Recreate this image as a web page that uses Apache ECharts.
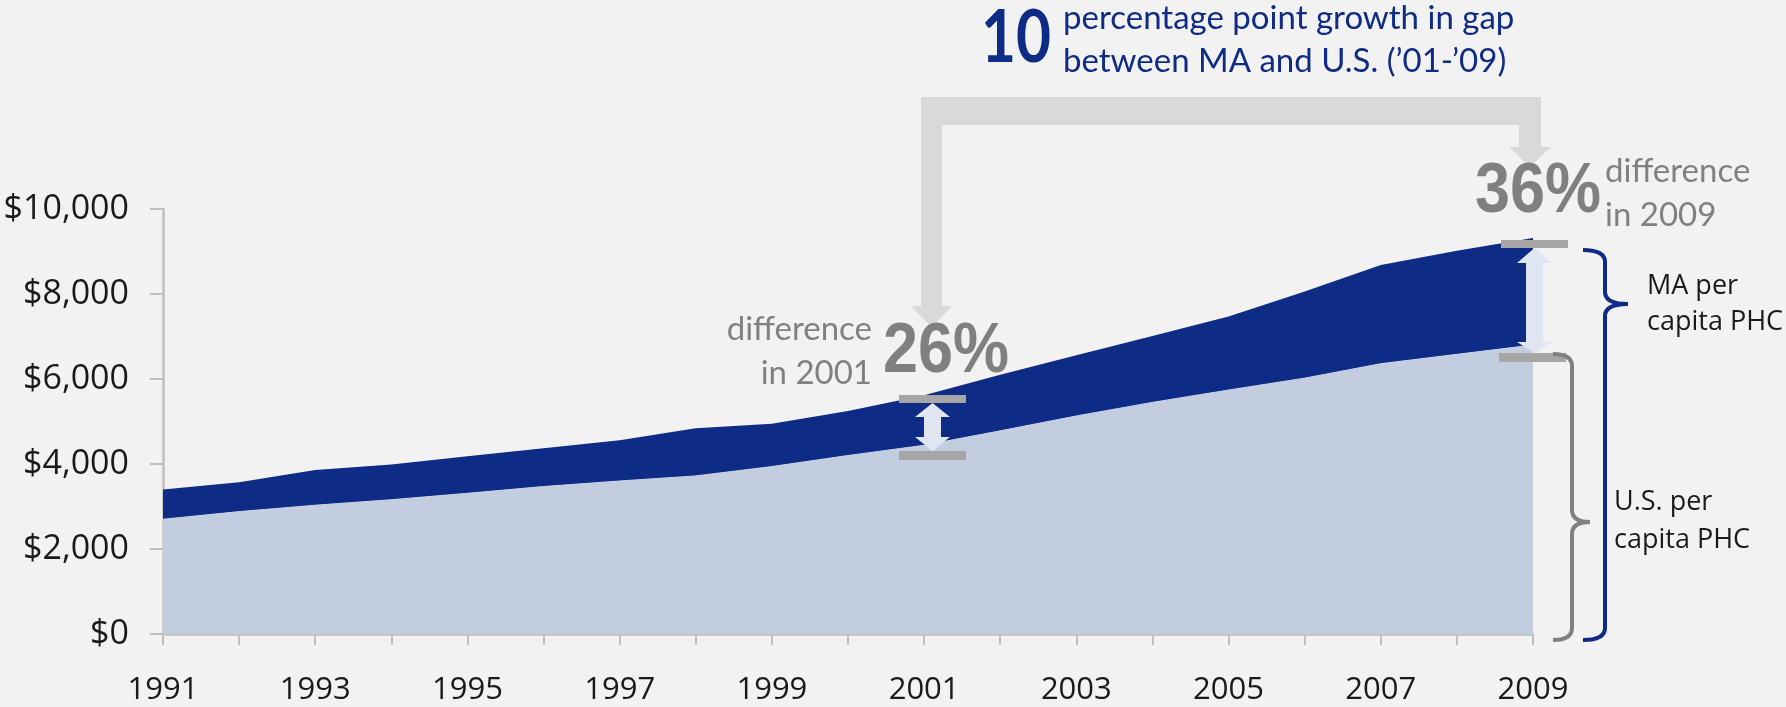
<!DOCTYPE html>
<html>
<head>
<meta charset="utf-8">
<script src="https://cdn.jsdelivr.net/npm/echarts@6/dist/echarts.min.js"></script>
<style>
  html, body { margin: 0; padding: 0; background: #f2f2f2; }
  #chart { width: 1786px; height: 707px; }
</style>
</head>
<body>
<div id="chart"></div>
<script>
// ---- data ----
var years = ['1991','1992','1993','1994','1995','1996','1997','1998','1999','2000',
             '2001','2002','2003','2004','2005','2006','2007','2008','2009'];
var maPerCapitaPHC = [3400, 3570, 3860, 3990, 4180, 4370, 4560, 4840, 4950, 5250,
                      5620, 6100, 6560, 7010, 7470, 8060, 8680, 9020, 9320];
var usPerCapitaPHC = [2700, 2880, 3030, 3160, 3310, 3470, 3600, 3720, 3940, 4200,
                      4440, 4780, 5130, 5450, 5740, 6020, 6360, 6580, 6800];
var yTicks = { min: 0, max: 10000, interval: 2000 };

var NAVY = '#0e2b85';
var LIGHT = '#c3cde0';
var GRAY_TXT = '#808080';
var ZTOP = 100;

function txt(x, y, text, font, fill, align, extra) {
  var el = {
    type: 'text', x: x, y: y, silent: true, z: ZTOP,
    style: { text: text, x: 0, y: 0, font: font, fill: fill,
             textAlign: align || 'left', textVerticalAlign: 'middle',
             align: align || 'left', verticalAlign: 'middle' }
  };
  if (extra) { for (var k in extra) el[k] = extra[k]; }
  return el;
}
function rect(x1, y1, x2, y2, fill) {
  return { type: 'rect', silent: true, z: ZTOP, shape: { x: x1, y: y1, width: x2 - x1, height: y2 - y1 }, style: { fill: fill } };
}
function poly(points, fill) {
  return { type: 'polygon', silent: true, z: ZTOP, shape: { points: points }, style: { fill: fill } };
}
function dblArrow(cx, sw, hw, yTop, yTopBase, yBotBase, yBot, fill) {
  return poly([
    [cx, yTop], [cx + hw / 2, yTopBase], [cx + sw / 2, yTopBase], [cx + sw / 2, yBotBase],
    [cx + hw / 2, yBotBase], [cx, yBot], [cx - hw / 2, yBotBase], [cx - sw / 2, yBotBase],
    [cx - sw / 2, yTopBase], [cx - hw / 2, yTopBase]
  ], fill);
}
function curve(x1, y1, cx, cy, x2, y2, color) {
  return { type: 'bezierCurve', silent: true, z: ZTOP,
           shape: { x1: x1, y1: y1, cpx1: cx, cpy1: cy, x2: x2, y2: y2 },
           style: { fill: null, stroke: color, lineWidth: 4 } };
}
function seg(x1, y1, x2, y2, color) {
  return { type: 'line', silent: true, z: ZTOP, shape: { x1: x1, y1: y1, x2: x2, y2: y2 },
           style: { stroke: color, lineWidth: 4 } };
}
function brace(xEnd, xLine, xNub, yTop, yNub, yBot, color) {
  var r = 12;
  return [
    curve(xEnd, yTop, xLine, yTop, xLine, yTop + r, color),
    seg(xLine, yTop + r, xLine, yNub - r, color),
    curve(xLine, yNub - r, xLine, yNub, xNub, yNub, color),
    curve(xNub, yNub, xLine, yNub, xLine, yNub + r, color),
    seg(xLine, yNub + r, xLine, yBot - r, color),
    curve(xLine, yBot - r, xLine, yBot, xEnd, yBot, color)
  ];
}

var graphics = [
  // connector arrow
  poly([[921,97],[1541,97],[1541,147],[1551,147],[1530,167],[1509,147],[1519,147],[1519,125],
        [942,125],[942,306],[952,306],[931.5,327],[911,306],[921,306]], '#d9d9d9'),
  // headline
  txt(981, 39, '10', 'bold 72px Lato', NAVY, 'left', { scaleX: 0.84 }),
  txt(1063, 18, 'percentage point growth in gap', '33px Lato', NAVY, 'left'),
  txt(1063, 61, 'between MA and U.S. (\u201901-\u201909)', '33px Lato', NAVY, 'left'),
  // 2001 annotation
  txt(872, 329, 'difference', '33px Lato', GRAY_TXT, 'right'),
  txt(872, 373, 'in 2001', '33px Lato', GRAY_TXT, 'right'),
  txt(883, 353, '26%', 'bold 70px "Liberation Sans", Arial', GRAY_TXT, 'left', { scaleX: 0.9 }),
  rect(899, 395, 966, 403, '#a6a6a6'),
  rect(899, 451, 966, 460, '#a6a6a6'),
  dblArrow(932.5, 17, 35, 403, 417, 437, 451, '#dfe6f1'),
  // 2009 annotation
  txt(1475, 193, '36%', 'bold 70px "Liberation Sans", Arial', GRAY_TXT, 'left', { scaleX: 0.9 }),
  txt(1605, 171, 'difference', '33px Lato', GRAY_TXT, 'left'),
  txt(1605, 215, 'in 2009', '33px Lato', GRAY_TXT, 'left'),
  rect(1501, 240, 1568, 248, '#a6a6a6'),
  rect(1499, 353, 1566, 362, '#a6a6a6'),
  dblArrow(1534.5, 17, 35, 248, 263, 342, 353, '#dfe6f1'),
  // brace labels
  txt(1647, 286, 'MA per', '27px "Open Sans"', '#1a1a1a', 'left'),
  txt(1647, 322, 'capita PHC', '27px "Open Sans"', '#1a1a1a', 'left'),
  txt(1614, 502, 'U.S. per', '27px "Open Sans"', '#1a1a1a', 'left'),
  txt(1614, 540, 'capita PHC', '27px "Open Sans"', '#1a1a1a', 'left')
].concat(brace(1553, 1572, 1590, 354, 522, 640, '#808080'))
 .concat(brace(1583, 1605, 1628, 250, 304, 640, NAVY));

var chart = echarts.init(document.getElementById('chart'), null, { renderer: 'canvas' });
chart.setOption({
  backgroundColor: '#f2f2f2',
  animation: false,
  grid: { left: 163, right: 253, top: 209, bottom: 73, containLabel: false },
  xAxis: {
    type: 'category',
    data: years,
    boundaryGap: false,
    axisLine: { lineStyle: { color: '#bfbfbf', width: 2.5 } },
    axisTick: { show: true, interval: 0, length: 11, lineStyle: { color: '#bfbfbf', width: 2 } },
    axisLabel: { interval: 1, margin: 41, color: '#1a1a1a', fontFamily: 'Open Sans', fontSize: 31 },
    splitLine: { show: false }
  },
  yAxis: {
    type: 'value',
    min: yTicks.min, max: yTicks.max, interval: yTicks.interval,
    axisLine: { show: true, lineStyle: { color: '#bfbfbf', width: 2.5 } },
    axisTick: { show: true, length: 13, lineStyle: { color: '#bfbfbf', width: 2 } },
    axisLabel: {
      margin: 34, color: '#1a1a1a', fontFamily: 'Open Sans', fontSize: 34,
      formatter: function (v) { return '$' + v.toLocaleString('en-US'); }
    },
    splitLine: { show: false }
  },
  series: [
    {
      name: 'MA per capita PHC', type: 'line', data: maPerCapitaPHC,
      symbol: 'none', lineStyle: { width: 0, color: NAVY },
      areaStyle: { color: NAVY, opacity: 1 }, z: 2
    },
    {
      name: 'U.S. per capita PHC', type: 'line', data: usPerCapitaPHC,
      symbol: 'none', lineStyle: { width: 1, color: '#cdd6e6' },
      areaStyle: { color: LIGHT, opacity: 1 }, z: 3
    }
  ],
  graphic: { elements: graphics }
});
</script>
</body>
</html>
